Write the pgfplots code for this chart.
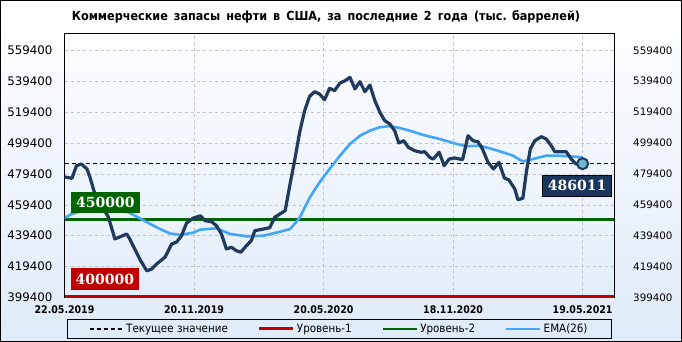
\documentclass[border=0pt]{standalone}
\usepackage{fontspec}
\setmainfont{DejaVu Sans Condensed}
\newfontfamily\verd{DejaVu Sans}
\newfontfamily\serifb{DejaVu Serif}
\usepackage{pgfplots}
\pgfplotsset{compat=1.18}
\definecolor{navy}{HTML}{1F3A5C}
\definecolor{emablue}{HTML}{42A5F5}
\definecolor{lvlgreen}{HTML}{006400}
\definecolor{lvlred}{HTML}{C00000}
\definecolor{markfill}{HTML}{6CB9CF}
\definecolor{boxnavy}{HTML}{1B365D}
\definecolor{gridgray}{HTML}{C4C4C4}
\definecolor{bgblue}{HTML}{DFEBF9}
\newcommand\titlefont{\bfseries\fontsize{12.5bp}{15bp}\selectfont}
\newcommand\ytfont{\verd\fontsize{11.8bp}{14bp}\selectfont}
\newcommand\ytrfont{\verd\fontsize{10.3bp}{12bp}\selectfont}
\newcommand\xtfont{\bfseries\fontsize{10.5bp}{12bp}\selectfont}
\newcommand\legfont{\fontsize{11.5bp}{13bp}\selectfont}
\newcommand\boxfont{\serifb\bfseries\fontsize{14bp}{16bp}\selectfont}

\pgfplotstableread{
w v
0 477400
1.5 476550
2.4 484700
3.4 485800
4.5 482600
5.1 477400
6.1 466400
7.3 459300
8.8 451500
9.1 448300
10.1 437300
11.1 438600
12.5 440500
13.1 437300
14.1 430800
15.1 424300
16.5 416700
17.5 417800
18.5 421100
20.2 425600
21.5 434000
22.5 435300
23.5 439400
24.5 447600
25.8 450700
27.3 452300
28.2 449100
29.5 448500
30.5 445900
31.5 440500
32.5 430800
33.5 431900
34.5 429700
35.4 428700
36.5 432900
37.5 436200
38.2 442600
39.9 443700
41.2 444600
42.2 451300
43.2 453400
44.3 455600
45.2 471600
46.2 488100
47.2 506300
48.2 520300
49.2 529600
50.2 532600
51.2 531100
52.2 527400
53.2 534800
54.2 533300
55.3 538200
56.3 539700
57.3 541900
58.3 534400
59.3 539100
60.3 532600
61.3 536900
62.3 526800
63.3 519300
64.3 513800
65.3 511700
66.3 507200
67.1 499400
68.1 500900
69.0 496600
70.3 494400
71.6 493400
72.3 493800
73.3 490100
74.0 489000
75.2 493400
76.2 484700
77.2 489000
78.3 489700
79.9 488600
81.0 504100
82.0 500900
83.0 500200
83.9 495500
85.0 486900
86.1 482600
87.2 486900
88.3 476700
89.2 475500
90.4 469600
91.0 462700
92.0 463600
92.7 480400
93.5 495500
94.4 500900
95.7 503500
96.7 502000
97.7 497700
98.4 493800
99.2 493800
100.7 493800
101.7 489000
102.7 485800
104 486011
}\stocks

\pgfplotstableread{
w v
0 450800
1.4 453400
4 456000
7 457300
10 456300
12.9 454500
15.2 450500
17 447300
19.2 443700
21.2 440800
23.2 440000
25.8 441300
27.2 443300
30.5 444200
33.3 440500
36.6 439000
40 439400
43.3 442000
45.3 443700
47.2 451000
49.2 464000
51.2 474000
53.2 482600
55.3 491200
57.3 498800
59.3 504100
61.3 507400
63.3 509600
65.3 510300
67.3 509100
69.3 507400
72 504600
75.3 502000
78.7 498800
80.7 497300
83.3 497700
85.3 496000
88 493400
90 491200
92 487500
94 489000
96.7 491200
98.7 491200
101.4 490800
104 490100
}\ema

\begin{document}
\begin{tikzpicture}
\fill[top color=white, bottom color=bgblue] (0,0) rectangle (682bp,342bp);
\draw[black, line width=1bp] (0.5bp,0.5bp) rectangle (681.5bp,341.5bp);
\node at (326bp,325bp) {\titlefont Коммерческие\, запасы\, нефти\, в\, США,\, за\, последние\, 2\, года\, (тыс. баррелей)};

\begin{axis}[
  at={(64.5bp,44.5bp)}, anchor=south west,
  scale only axis, width=549.5bp, height=264.5bp,
  xmin=0, xmax=110.3, ymin=399400, ymax=570600,
  scaled y ticks=false, scaled x ticks=false,
  xtick={0,26,52,78,104},
  xticklabels={22.05.2019,20.11.2019,20.05.2020,18.11.2020,19.05.2021},
  ytick={399400,419400,439400,459400,479400,499400,519400,539400,559400},
  yticklabels={399400,419400,439400,459400,479400,499400,519400,539400,559400},
  yticklabel pos=left,
  grid=major,
  major grid style={dash pattern=on 3bp off 3bp, gridgray, line width=0.6bp},
  major tick length=0pt,
  axis line style={black, line width=0.9bp},
  yticklabel style={font=\ytfont, inner sep=0pt, xshift=-12bp},
  xticklabel style={font=\xtfont, inner sep=0pt, yshift=-8.5bp},
  legend style={at={(0.5,-0.119)}, anchor=center, legend columns=4,
    draw=black, line width=0.8bp, fill=none, font=\legfont,
    inner xsep=22bp, inner ysep=2bp,
    /tikz/every even column/.append style={column sep=28bp}},
  legend cell align=left,
  legend image code/.code={\draw[#1] (0bp,0bp) -- (34bp,0bp);},
]
\addplot[black, line width=1.2bp, dash pattern=on 4bp off 3bp] coordinates {(0,486011) (110.3,486011)};
\addlegendentry{Текущее значение}
\addplot[lvlred, line width=3bp] coordinates {(0,400000) (110.3,400000)};
\addlegendentry{Уровень-1}
\addplot[lvlgreen, line width=2.5bp] coordinates {(0,450000) (110.3,450000)};
\addlegendentry{Уровень-2}
\addplot[emablue, line width=2.6bp, line join=round] table[x=w, y=v] {\ema};
\addlegendentry{EMA(26)}
\addplot[navy, line width=3.2bp, line join=round, forget plot] table[x=w, y=v] {\stocks};
\addplot[only marks, mark=*, mark size=5.5bp, mark options={fill=markfill, draw=navy, line width=2bp}, forget plot] coordinates {(104,486011)};
\node[fill=lvlgreen, text=white, font=\boxfont, inner xsep=5bp, inner ysep=5.5bp, anchor=south west, xshift=6.5bp, yshift=6bp] at (axis cs:0,450000) {450000};
\node[fill=lvlred, text=white, font=\boxfont, inner xsep=5bp, inner ysep=5.5bp, anchor=south west, xshift=6bp, yshift=6.5bp] at (axis cs:0,400000) {400000};
\node[fill=boxnavy, draw=black, line width=0.8bp, text=white, font=\boxfont, inner xsep=5bp, inner ysep=5bp, anchor=north east, xshift=-2.3bp, yshift=-11.5bp] at (axis cs:110.3,486011) {486011};
\end{axis}

\begin{axis}[
  at={(64.5bp,44.5bp)}, anchor=south west,
  scale only axis, width=549.5bp, height=264.5bp,
  xmin=0, xmax=110.3, ymin=399400, ymax=570600,
  scaled y ticks=false, scaled x ticks=false,
  xtick=\empty,
  ytick={399400,419400,439400,459400,479400,499400,519400,539400,559400},
  yticklabels={399400,419400,439400,459400,479400,499400,519400,539400,559400},
  yticklabel pos=right,
  major tick length=0pt,
  axis line style={draw=none},
  yticklabel style={font=\ytrfont, inner sep=0pt, xshift=19bp},
]
\addplot[draw=none] coordinates {(0,450000)};
\end{axis}
\end{tikzpicture}
\end{document}
